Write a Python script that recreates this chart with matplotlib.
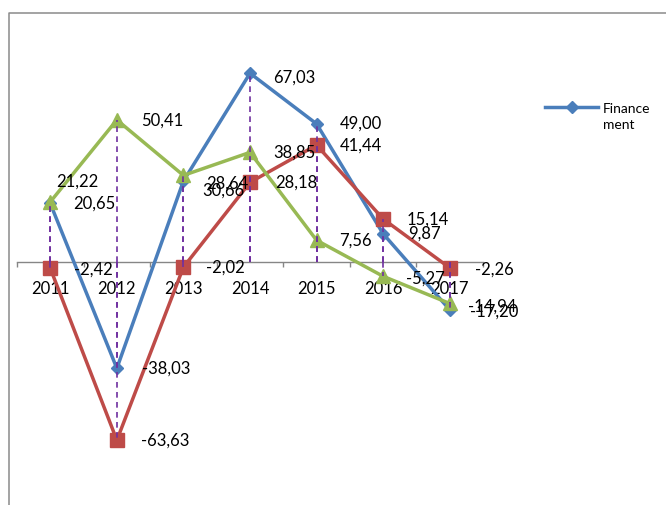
import matplotlib
matplotlib.use("Agg")
import matplotlib.pyplot as plt
from matplotlib.lines import Line2D

plt.rcParams['font.family'] = ['Lato', 'DejaVu Sans']

# ---- data ----
years = ['2011', '2012', '2013', '2014', '2015', '2016', '2017']
finance = [20.65, -38.03, 28.64, 67.03, 49.00, 9.87, -17.20]
series_red = [-2.42, -63.63, -2.02, 28.18, 41.44, 15.14, -2.26]
series_green = [21.22, 50.41, 30.66, 38.85, 7.56, -5.27, -14.94]
legend_label = 'Finance\nment'

# label offsets in pixels (dx, dy up)
off_blue = [(23, 0), (25, 0), (23, -3), (23, -4), (23, 0), (25, 0), (20, -2)]
off_red = [(24, -1), (24, 0), (23, 0), (25, 0), (23, -1), (23, -1), (25, -2)]
off_green = [(6, 20), (24, -1), (19, -15), (23, 0), (23, 0), (23, -2), (18, -3)]

W, H = 666, 505
fig = plt.figure(figsize=(W / 100, H / 100), dpi=100)
ax_left, ax_right = 17, 483
ax_top, ax_bot = 36.8, 486.2
ax = fig.add_axes([ax_left / W, (H - ax_bot) / H, (ax_right - ax_left) / W, (ax_bot - ax_top) / H])
ax.set_xlim(-0.5, len(years) - 0.5)
ax.set_ylim(-80, 80)

x = list(range(len(years)))
blue = '#4A7EBB'
red = '#BE4B48'
green = '#98B954'
lw = 2.5

ax.plot(x, finance, color=blue, lw=lw, marker='D', ms=6.3, zorder=3, label=legend_label)
ax.plot(x, series_red, color=red, lw=lw, marker='s', ms=10.5, zorder=3)
ax.plot(x, series_green, color=green, lw=lw, marker='^', ms=10.5, zorder=3)

# drop lines
for vals in (finance, series_red, series_green):
    ax.vlines(x, 0, vals, colors='#7030A0', linewidth=1.2,
              linestyles=(0, (3.4, 2.6)), zorder=5)

def fmt(v):
    return f"{v:.2f}".replace('.', ',')

for vals, offs in ((finance, off_blue), (series_red, off_red), (series_green, off_green)):
    for xi, v, (dx, dy) in zip(x, vals, offs):
        ax.annotate(fmt(v), (xi, v), xytext=(dx, dy), textcoords='offset pixels',
                    ha='left', va='center', fontsize=12, color='black', zorder=6)

# axes styling
for s in ('left', 'top', 'right'):
    ax.spines[s].set_visible(False)
ax.spines['bottom'].set_position(('data', 0))
ax.spines['bottom'].set_color('#868686')
ax.spines['bottom'].set_linewidth(1.0)
ax.spines['bottom'].set_zorder(2)
ax.set_yticks([])
ax.set_xticks(x)
ax.set_xticklabels(years, fontsize=12)
ax.tick_params(axis='x', which='major', length=0, pad=14)
ax.set_xticks([i - 0.5 for i in range(len(years) + 1)], minor=True)
ax.tick_params(axis='x', which='minor', length=3.6, width=1.0, color='#868686', direction='out')
ax.patch.set_visible(False)

# chart border (partially visible)
fig.add_artist(Line2D([9 / W, 9 / W, 1.02], [-0.02, 1 - 13 / H, 1 - 13 / H],
                      transform=fig.transFigure, color='#8A8A8A', lw=1.1))

# legend (manual)
ly = 1 - 107 / H
fig.add_artist(Line2D([545 / W, 598 / W], [ly, ly], transform=fig.transFigure,
                      color=blue, lw=lw))
fig.add_artist(Line2D([572 / W], [ly], transform=fig.transFigure, color=blue,
                      marker='D', ms=6.3, lw=0))
fig.text(603 / W, 1 - 117 / H, legend_label, ha='left', va='center',
         fontsize=10, linespacing=1.45)

fig.savefig('out.png', dpi=100)
